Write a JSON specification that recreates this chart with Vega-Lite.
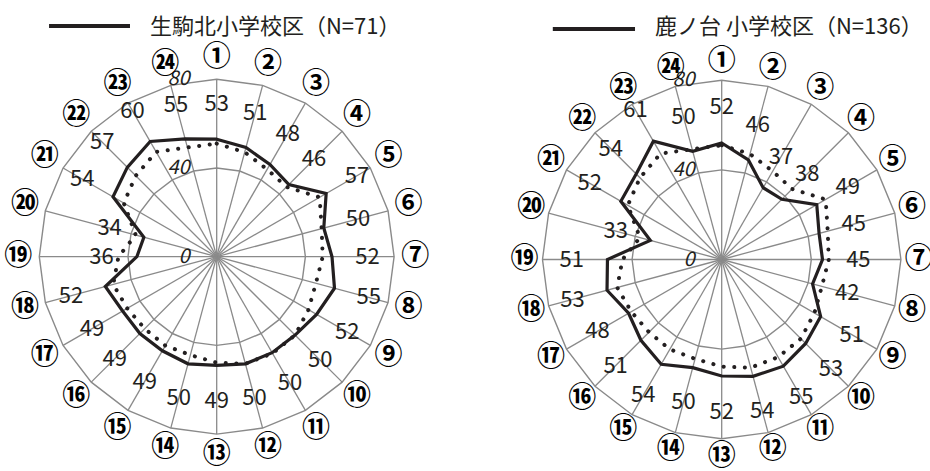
{
  "$schema": "https://vega.github.io/schema/vega-lite/v6.json",
  "padding": 0,
  "spacing": 0,
  "bounds": "flush",
  "config": {"view": {"stroke": null}, "font": "Noto Sans CJK JP"},
  "datasets": {
    "scores": [
      {"district": "生駒北小学校区（N=71）", "axis": 1, "mark": "①", "value": 53, "reference": 51},
      {"district": "生駒北小学校区（N=71）", "axis": 2, "mark": "②", "value": 51, "reference": 48.8},
      {"district": "生駒北小学校区（N=71）", "axis": 3, "mark": "③", "value": 48, "reference": 45.5},
      {"district": "生駒北小学校区（N=71）", "axis": 4, "mark": "④", "value": 46, "reference": 44.5},
      {"district": "生駒北小学校区（N=71）", "axis": 5, "mark": "⑤", "value": 57, "reference": 53.6},
      {"district": "生駒北小学校区（N=71）", "axis": 6, "mark": "⑥", "value": 50, "reference": 49},
      {"district": "生駒北小学校区（N=71）", "axis": 7, "mark": "⑦", "value": 52, "reference": 47.8},
      {"district": "生駒北小学校区（N=71）", "axis": 8, "mark": "⑧", "value": 55, "reference": 46.3},
      {"district": "生駒北小学校区（N=71）", "axis": 9, "mark": "⑨", "value": 52, "reference": 47.8},
      {"district": "生駒北小学校区（N=71）", "axis": 10, "mark": "⑩", "value": 50, "reference": 50},
      {"district": "生駒北小学校区（N=71）", "axis": 11, "mark": "⑪", "value": 50, "reference": 50.3},
      {"district": "生駒北小学校区（N=71）", "axis": 12, "mark": "⑫", "value": 50, "reference": 50},
      {"district": "生駒北小学校区（N=71）", "axis": 13, "mark": "⑬", "value": 49, "reference": 47.8},
      {"district": "生駒北小学校区（N=71）", "axis": 14, "mark": "⑭", "value": 50, "reference": 45.9},
      {"district": "生駒北小学校区（N=71）", "axis": 15, "mark": "⑮", "value": 49, "reference": 46.3},
      {"district": "生駒北小学校区（N=71）", "axis": 16, "mark": "⑯", "value": 49, "reference": 45.9},
      {"district": "生駒北小学校区（N=71）", "axis": 17, "mark": "⑰", "value": 49, "reference": 46.6},
      {"district": "生駒北小学校区（N=71）", "axis": 18, "mark": "⑱", "value": 52, "reference": 48.3},
      {"district": "生駒北小学校区（N=71）", "axis": 19, "mark": "⑲", "value": 36, "reference": 44.3},
      {"district": "生駒北小学校区（N=71）", "axis": 20, "mark": "⑳", "value": 34, "reference": 37.8},
      {"district": "生駒北小学校区（N=71）", "axis": 21, "mark": "㉑", "value": 54, "reference": 48.4},
      {"district": "生駒北小学校区（N=71）", "axis": 22, "mark": "㉒", "value": 57, "reference": 51.6},
      {"district": "生駒北小学校区（N=71）", "axis": 23, "mark": "㉓", "value": 60, "reference": 54.6},
      {"district": "生駒北小学校区（N=71）", "axis": 24, "mark": "㉔", "value": 55, "reference": 51},
      {"district": "鹿ノ台 小学校区（N=136）", "axis": 1, "mark": "①", "value": 52, "reference": 51},
      {"district": "鹿ノ台 小学校区（N=136）", "axis": 2, "mark": "②", "value": 46, "reference": 48.8},
      {"district": "鹿ノ台 小学校区（N=136）", "axis": 3, "mark": "③", "value": 37, "reference": 45.5},
      {"district": "鹿ノ台 小学校区（N=136）", "axis": 4, "mark": "④", "value": 38, "reference": 44.5},
      {"district": "鹿ノ台 小学校区（N=136）", "axis": 5, "mark": "⑤", "value": 49, "reference": 53.6},
      {"district": "鹿ノ台 小学校区（N=136）", "axis": 6, "mark": "⑥", "value": 45, "reference": 49},
      {"district": "鹿ノ台 小学校区（N=136）", "axis": 7, "mark": "⑦", "value": 45, "reference": 47.8},
      {"district": "鹿ノ台 小学校区（N=136）", "axis": 8, "mark": "⑧", "value": 42, "reference": 46.3},
      {"district": "鹿ノ台 小学校区（N=136）", "axis": 9, "mark": "⑨", "value": 51, "reference": 47.8},
      {"district": "鹿ノ台 小学校区（N=136）", "axis": 10, "mark": "⑩", "value": 53, "reference": 50},
      {"district": "鹿ノ台 小学校区（N=136）", "axis": 11, "mark": "⑪", "value": 55, "reference": 50.3},
      {"district": "鹿ノ台 小学校区（N=136）", "axis": 12, "mark": "⑫", "value": 54, "reference": 50},
      {"district": "鹿ノ台 小学校区（N=136）", "axis": 13, "mark": "⑬", "value": 52, "reference": 47.8},
      {"district": "鹿ノ台 小学校区（N=136）", "axis": 14, "mark": "⑭", "value": 50, "reference": 45.9},
      {"district": "鹿ノ台 小学校区（N=136）", "axis": 15, "mark": "⑮", "value": 54, "reference": 46.3},
      {"district": "鹿ノ台 小学校区（N=136）", "axis": 16, "mark": "⑯", "value": 51, "reference": 45.9},
      {"district": "鹿ノ台 小学校区（N=136）", "axis": 17, "mark": "⑰", "value": 48, "reference": 46.6},
      {"district": "鹿ノ台 小学校区（N=136）", "axis": 18, "mark": "⑱", "value": 53, "reference": 48.3},
      {"district": "鹿ノ台 小学校区（N=136）", "axis": 19, "mark": "⑲", "value": 51, "reference": 44.3},
      {"district": "鹿ノ台 小学校区（N=136）", "axis": 20, "mark": "⑳", "value": 33, "reference": 37.8},
      {"district": "鹿ノ台 小学校区（N=136）", "axis": 21, "mark": "㉑", "value": 52, "reference": 48.4},
      {"district": "鹿ノ台 小学校区（N=136）", "axis": 22, "mark": "㉒", "value": 54, "reference": 51.6},
      {"district": "鹿ノ台 小学校区（N=136）", "axis": 23, "mark": "㉓", "value": 61, "reference": 54.6},
      {"district": "鹿ノ台 小学校区（N=136）", "axis": 24, "mark": "㉔", "value": 50, "reference": 51}
    ],
    "ticks": [{"tick": 0}, {"tick": 40}, {"tick": 80}]
  },
  "hconcat": [
    {
      "width": 440,
      "height": 471,
      "layer": [
        {
          "data": {"name": "scores"},
          "transform": [
            {"filter": "datum.district === '生駒北小学校区（N=71）'"},
            {"calculate": "(datum.axis - 1) * PI / 12", "as": "theta"},
            {"calculate": "0", "as": "cx"},
            {"calculate": "80 * sin(datum.theta)", "as": "sx80"},
            {"calculate": "80 * cos(datum.theta)", "as": "sy80"}
          ],
          "mark": {"type": "rule", "color": "#8a8a8a", "strokeWidth": 1.3},
          "encoding": {
            "x": {"field": "cx", "type": "quantitative", "scale": {"domain": [-97.72, 100.7], "nice": false, "zero": false}, "axis": null},
            "y": {"field": "cx", "type": "quantitative", "scale": {"domain": [-96.64, 115.76], "nice": false, "zero": false}, "axis": null},
            "x2": {"field": "sx80"},
            "y2": {"field": "sy80"}
          }
        },
        {
          "data": {"name": "scores"},
          "transform": [
            {"filter": "datum.district === '生駒北小学校区（N=71）'"},
            {"calculate": "(datum.axis - 1) * PI / 12", "as": "theta"},
            {"calculate": "80 * sin(datum.theta)", "as": "sx80"},
            {"calculate": "80 * cos(datum.theta)", "as": "sy80"}
          ],
          "mark": {"type": "line", "interpolate": "linear-closed", "color": "#8a8a8a", "strokeWidth": 1.4},
          "encoding": {
            "x": {"field": "sx80", "type": "quantitative", "scale": {"domain": [-97.72, 100.7], "nice": false, "zero": false}, "axis": null},
            "y": {"field": "sy80", "type": "quantitative", "scale": {"domain": [-96.64, 115.76], "nice": false, "zero": false}, "axis": null},
            "order": {"field": "axis", "type": "quantitative"}
          }
        },
        {
          "data": {"name": "scores"},
          "transform": [
            {"filter": "datum.district === '生駒北小学校区（N=71）'"},
            {"calculate": "(datum.axis - 1) * PI / 12", "as": "theta"},
            {"calculate": "40 * sin(datum.theta)", "as": "sx40"},
            {"calculate": "40 * cos(datum.theta)", "as": "sy40"}
          ],
          "mark": {"type": "line", "interpolate": "linear-closed", "color": "#8a8a8a", "strokeWidth": 1.4},
          "encoding": {
            "x": {"field": "sx40", "type": "quantitative", "scale": {"domain": [-97.72, 100.7], "nice": false, "zero": false}, "axis": null},
            "y": {"field": "sy40", "type": "quantitative", "scale": {"domain": [-96.64, 115.76], "nice": false, "zero": false}, "axis": null},
            "order": {"field": "axis", "type": "quantitative"}
          }
        },
        {
          "data": {"name": "ticks"},
          "transform": [{"calculate": "0", "as": "cx"}],
          "mark": {"type": "text", "align": "right", "baseline": "middle", "dx": -27, "fontStyle": "italic", "fontSize": 20, "font": "Noto Sans CJK JP", "color": "#231f20"},
          "encoding": {
            "x": {"field": "cx", "type": "quantitative", "scale": {"domain": [-97.72, 100.7], "nice": false, "zero": false}, "axis": null},
            "y": {"field": "tick", "type": "quantitative", "scale": {"domain": [-96.64, 115.76], "nice": false, "zero": false}, "axis": null},
            "text": {"field": "tick", "type": "quantitative"}
          }
        },
        {
          "data": {"name": "scores"},
          "transform": [
            {"filter": "datum.district === '生駒北小学校区（N=71）'"},
            {"calculate": "(datum.axis - 1) * PI / 12", "as": "theta"},
            {"calculate": "datum.reference * sin(datum.theta)", "as": "rx"},
            {"calculate": "datum.reference * cos(datum.theta)", "as": "ry"}
          ],
          "mark": {"type": "line", "interpolate": "linear-closed", "color": "#231f20", "strokeWidth": 4, "strokeDash": [0.1, 10.5], "strokeCap": "round"},
          "encoding": {
            "x": {"field": "rx", "type": "quantitative", "scale": {"domain": [-97.72, 100.7], "nice": false, "zero": false}, "axis": null},
            "y": {"field": "ry", "type": "quantitative", "scale": {"domain": [-96.64, 115.76], "nice": false, "zero": false}, "axis": null},
            "order": {"field": "axis", "type": "quantitative"}
          }
        },
        {
          "data": {"name": "scores"},
          "transform": [
            {"filter": "datum.district === '生駒北小学校区（N=71）'"},
            {"calculate": "(datum.axis - 1) * PI / 12", "as": "theta"},
            {"calculate": "datum.value * sin(datum.theta)", "as": "vx"},
            {"calculate": "datum.value * cos(datum.theta)", "as": "vy"}
          ],
          "mark": {"type": "line", "interpolate": "linear-closed", "color": "#231f20", "strokeWidth": 3.2},
          "encoding": {
            "x": {"field": "vx", "type": "quantitative", "scale": {"domain": [-97.72, 100.7], "nice": false, "zero": false}, "axis": null},
            "y": {"field": "vy", "type": "quantitative", "scale": {"domain": [-96.64, 115.76], "nice": false, "zero": false}, "axis": null},
            "order": {"field": "axis", "type": "quantitative"}
          }
        },
        {
          "data": {"name": "scores"},
          "transform": [{"filter": "datum.district === '生駒北小学校区（N=71）' && datum.axis === 1"}],
          "mark": {"type": "rule", "color": "#231f20", "strokeWidth": 4},
          "encoding": {
            "x": {"datum": -75.6, "type": "quantitative", "scale": {"domain": [-97.72, 100.7], "nice": false, "zero": false}, "axis": null},
            "x2": {"datum": -39.1},
            "y": {"datum": 104.0, "type": "quantitative", "scale": {"domain": [-96.64, 115.76], "nice": false, "zero": false}, "axis": null}
          }
        },
        {
          "data": {"name": "scores"},
          "transform": [{"filter": "datum.district === '生駒北小学校区（N=71）' && datum.axis === 1"}],
          "mark": {"type": "text", "align": "left", "baseline": "middle", "fontSize": 22, "font": "Noto Sans CJK JP", "color": "#231f20"},
          "encoding": {
            "x": {"datum": -30.1, "type": "quantitative", "scale": {"domain": [-97.72, 100.7], "nice": false, "zero": false}, "axis": null},
            "y": {"datum": 103.6, "type": "quantitative", "scale": {"domain": [-96.64, 115.76], "nice": false, "zero": false}, "axis": null},
            "text": {"field": "district", "type": "nominal"}
          }
        },
        {
          "data": {"name": "scores"},
          "transform": [
            {"filter": "datum.district === '生駒北小学校区（N=71）'"},
            {"calculate": "(datum.axis - 1) * PI / 12", "as": "theta"},
            {"calculate": "(datum.value + 16) * sin(datum.theta)", "as": "lx"},
            {"calculate": "(datum.value + 16) * cos(datum.theta)", "as": "ly"}
          ],
          "mark": {"type": "text", "align": "center", "baseline": "middle", "fontSize": 22, "font": "Noto Sans CJK JP", "color": "#231f20"},
          "encoding": {
            "x": {"field": "lx", "type": "quantitative", "scale": {"domain": [-97.72, 100.7], "nice": false, "zero": false}, "axis": null},
            "y": {"field": "ly", "type": "quantitative", "scale": {"domain": [-96.64, 115.76], "nice": false, "zero": false}, "axis": null},
            "text": {"field": "value", "type": "quantitative"}
          }
        },
        {
          "data": {"name": "scores"},
          "transform": [
            {"filter": "datum.district === '生駒北小学校区（N=71）'"},
            {"calculate": "(datum.axis - 1) * PI / 12", "as": "theta"},
            {"calculate": "89.5 * sin(datum.theta)", "as": "mx"},
            {"calculate": "89.5 * cos(datum.theta)", "as": "my"}
          ],
          "mark": {"type": "text", "align": "center", "baseline": "middle", "fontSize": 28, "fontWeight": "bold", "font": "Noto Sans CJK JP", "color": "#000000"},
          "encoding": {
            "x": {"field": "mx", "type": "quantitative", "scale": {"domain": [-97.72, 100.7], "nice": false, "zero": false}, "axis": null},
            "y": {"field": "my", "type": "quantitative", "scale": {"domain": [-96.64, 115.76], "nice": false, "zero": false}, "axis": null},
            "text": {"field": "mark", "type": "nominal"}
          }
        }
      ]
    },
    {
      "width": 490,
      "height": 471,
      "layer": [
        {
          "data": {"name": "scores"},
          "transform": [
            {"filter": "datum.district === '鹿ノ台 小学校区（N=136）'"},
            {"calculate": "(datum.axis - 1) * PI / 12", "as": "theta"},
            {"calculate": "0", "as": "cx"},
            {"calculate": "80 * sin(datum.theta)", "as": "sx80"},
            {"calculate": "80 * cos(datum.theta)", "as": "sy80"}
          ],
          "mark": {"type": "rule", "color": "#8a8a8a", "strokeWidth": 1.3},
          "encoding": {
            "x": {"field": "cx", "type": "quantitative", "scale": {"domain": [-125.76, 92.99], "nice": false, "zero": false}, "axis": null},
            "y": {"field": "cx", "type": "quantitative", "scale": {"domain": [-94.42, 115.85], "nice": false, "zero": false}, "axis": null},
            "x2": {"field": "sx80"},
            "y2": {"field": "sy80"}
          }
        },
        {
          "data": {"name": "scores"},
          "transform": [
            {"filter": "datum.district === '鹿ノ台 小学校区（N=136）'"},
            {"calculate": "(datum.axis - 1) * PI / 12", "as": "theta"},
            {"calculate": "80 * sin(datum.theta)", "as": "sx80"},
            {"calculate": "80 * cos(datum.theta)", "as": "sy80"}
          ],
          "mark": {"type": "line", "interpolate": "linear-closed", "color": "#8a8a8a", "strokeWidth": 1.4},
          "encoding": {
            "x": {"field": "sx80", "type": "quantitative", "scale": {"domain": [-125.76, 92.99], "nice": false, "zero": false}, "axis": null},
            "y": {"field": "sy80", "type": "quantitative", "scale": {"domain": [-94.42, 115.85], "nice": false, "zero": false}, "axis": null},
            "order": {"field": "axis", "type": "quantitative"}
          }
        },
        {
          "data": {"name": "scores"},
          "transform": [
            {"filter": "datum.district === '鹿ノ台 小学校区（N=136）'"},
            {"calculate": "(datum.axis - 1) * PI / 12", "as": "theta"},
            {"calculate": "40 * sin(datum.theta)", "as": "sx40"},
            {"calculate": "40 * cos(datum.theta)", "as": "sy40"}
          ],
          "mark": {"type": "line", "interpolate": "linear-closed", "color": "#8a8a8a", "strokeWidth": 1.4},
          "encoding": {
            "x": {"field": "sx40", "type": "quantitative", "scale": {"domain": [-125.76, 92.99], "nice": false, "zero": false}, "axis": null},
            "y": {"field": "sy40", "type": "quantitative", "scale": {"domain": [-94.42, 115.85], "nice": false, "zero": false}, "axis": null},
            "order": {"field": "axis", "type": "quantitative"}
          }
        },
        {
          "data": {"name": "ticks"},
          "transform": [{"calculate": "0", "as": "cx"}],
          "mark": {"type": "text", "align": "right", "baseline": "middle", "dx": -27, "fontStyle": "italic", "fontSize": 20, "font": "Noto Sans CJK JP", "color": "#231f20"},
          "encoding": {
            "x": {"field": "cx", "type": "quantitative", "scale": {"domain": [-125.76, 92.99], "nice": false, "zero": false}, "axis": null},
            "y": {"field": "tick", "type": "quantitative", "scale": {"domain": [-94.42, 115.85], "nice": false, "zero": false}, "axis": null},
            "text": {"field": "tick", "type": "quantitative"}
          }
        },
        {
          "data": {"name": "scores"},
          "transform": [
            {"filter": "datum.district === '鹿ノ台 小学校区（N=136）'"},
            {"calculate": "(datum.axis - 1) * PI / 12", "as": "theta"},
            {"calculate": "datum.reference * sin(datum.theta)", "as": "rx"},
            {"calculate": "datum.reference * cos(datum.theta)", "as": "ry"}
          ],
          "mark": {"type": "line", "interpolate": "linear-closed", "color": "#231f20", "strokeWidth": 4, "strokeDash": [0.1, 10.5], "strokeCap": "round"},
          "encoding": {
            "x": {"field": "rx", "type": "quantitative", "scale": {"domain": [-125.76, 92.99], "nice": false, "zero": false}, "axis": null},
            "y": {"field": "ry", "type": "quantitative", "scale": {"domain": [-94.42, 115.85], "nice": false, "zero": false}, "axis": null},
            "order": {"field": "axis", "type": "quantitative"}
          }
        },
        {
          "data": {"name": "scores"},
          "transform": [
            {"filter": "datum.district === '鹿ノ台 小学校区（N=136）'"},
            {"calculate": "(datum.axis - 1) * PI / 12", "as": "theta"},
            {"calculate": "datum.value * sin(datum.theta)", "as": "vx"},
            {"calculate": "datum.value * cos(datum.theta)", "as": "vy"}
          ],
          "mark": {"type": "line", "interpolate": "linear-closed", "color": "#231f20", "strokeWidth": 3.2},
          "encoding": {
            "x": {"field": "vx", "type": "quantitative", "scale": {"domain": [-125.76, 92.99], "nice": false, "zero": false}, "axis": null},
            "y": {"field": "vy", "type": "quantitative", "scale": {"domain": [-94.42, 115.85], "nice": false, "zero": false}, "axis": null},
            "order": {"field": "axis", "type": "quantitative"}
          }
        },
        {
          "data": {"name": "scores"},
          "transform": [{"filter": "datum.district === '鹿ノ台 小学校区（N=136）' && datum.axis === 1"}],
          "mark": {"type": "rule", "color": "#231f20", "strokeWidth": 4},
          "encoding": {
            "x": {"datum": -75.4, "type": "quantitative", "scale": {"domain": [-125.76, 92.99], "nice": false, "zero": false}, "axis": null},
            "x2": {"datum": -38.7},
            "y": {"datum": 102.9, "type": "quantitative", "scale": {"domain": [-94.42, 115.85], "nice": false, "zero": false}, "axis": null}
          }
        },
        {
          "data": {"name": "scores"},
          "transform": [{"filter": "datum.district === '鹿ノ台 小学校区（N=136）' && datum.axis === 1"}],
          "mark": {"type": "text", "align": "left", "baseline": "middle", "fontSize": 22, "font": "Noto Sans CJK JP", "color": "#231f20"},
          "encoding": {
            "x": {"datum": -29.8, "type": "quantitative", "scale": {"domain": [-125.76, 92.99], "nice": false, "zero": false}, "axis": null},
            "y": {"datum": 103.8, "type": "quantitative", "scale": {"domain": [-94.42, 115.85], "nice": false, "zero": false}, "axis": null},
            "text": {"field": "district", "type": "nominal"}
          }
        },
        {
          "data": {"name": "scores"},
          "transform": [
            {"filter": "datum.district === '鹿ノ台 小学校区（N=136）'"},
            {"calculate": "(datum.axis - 1) * PI / 12", "as": "theta"},
            {"calculate": "(datum.value + 16) * sin(datum.theta)", "as": "lx"},
            {"calculate": "(datum.value + 16) * cos(datum.theta)", "as": "ly"}
          ],
          "mark": {"type": "text", "align": "center", "baseline": "middle", "fontSize": 22, "font": "Noto Sans CJK JP", "color": "#231f20"},
          "encoding": {
            "x": {"field": "lx", "type": "quantitative", "scale": {"domain": [-125.76, 92.99], "nice": false, "zero": false}, "axis": null},
            "y": {"field": "ly", "type": "quantitative", "scale": {"domain": [-94.42, 115.85], "nice": false, "zero": false}, "axis": null},
            "text": {"field": "value", "type": "quantitative"}
          }
        },
        {
          "data": {"name": "scores"},
          "transform": [
            {"filter": "datum.district === '鹿ノ台 小学校区（N=136）'"},
            {"calculate": "(datum.axis - 1) * PI / 12", "as": "theta"},
            {"calculate": "88 * sin(datum.theta)", "as": "mx"},
            {"calculate": "88 * cos(datum.theta)", "as": "my"}
          ],
          "mark": {"type": "text", "align": "center", "baseline": "middle", "fontSize": 28, "fontWeight": "bold", "font": "Noto Sans CJK JP", "color": "#000000"},
          "encoding": {
            "x": {"field": "mx", "type": "quantitative", "scale": {"domain": [-125.76, 92.99], "nice": false, "zero": false}, "axis": null},
            "y": {"field": "my", "type": "quantitative", "scale": {"domain": [-94.42, 115.85], "nice": false, "zero": false}, "axis": null},
            "text": {"field": "mark", "type": "nominal"}
          }
        }
      ]
    }
  ]
}
